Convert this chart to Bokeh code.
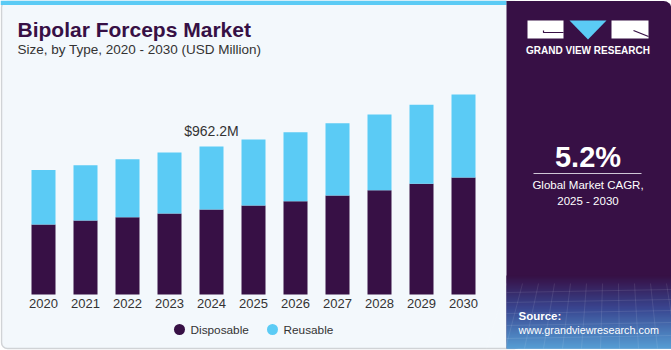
from bokeh.plotting import figure
from bokeh.models import Range1d, ColumnDataSource
from bokeh.core.properties import value
from bokeh.embed import file_html
from bokeh.resources import INLINE

# ---- data ----
years = [2020, 2021, 2022, 2023, 2024, 2025, 2026, 2027, 2028, 2029, 2030]
year_labels = [str(y) for y in years]
disposable = [455, 481, 503, 527, 553, 579, 607, 644, 678, 720, 761]
reusable = [355, 359, 377, 396, 409, 429, 448, 470, 492, 513, 539]
series_names = ["Disposable", "Reusable"]
highlight_year = 2024
highlight_label = "$962.2M"
title = "Bipolar Forceps Market"
subtitle = "Size, by Type, 2020 - 2030 (USD Million)"
cagr = "5.2%"
cagr_text = ["Global Market CAGR,", "2025 - 2030"]

# ---- style ----
W, H = 671, 350
PURPLE = "#371045"
BLUE = "#5BCBF5"
BG = "#F3F8FC"
FONT = "Liberation Sans"

px_per_year = 42.0
first_center_px = 43.0
px_per_unit = 148.0 / 962.2
base_from_bottom = 56.0

x_start = years[0] - first_center_px / px_per_year
y_start = -base_from_bottom / px_per_unit

p = figure(width=W, height=H, output_backend="svg", toolbar_location=None,
           x_range=Range1d(x_start, x_start + W / px_per_year),
           y_range=Range1d(y_start, y_start + H / px_per_unit),
           min_border=0, outline_line_color=None,
           background_fill_color="white", border_fill_color="white")
p.axis.visible = False
p.grid.visible = False
p.extra_x_ranges = {"px": Range1d(0, W)}
p.extra_y_ranges = {"py": Range1d(H, 0)}

PX = dict(x_range_name="px", y_range_name="py")


def txt(x, y, t, size, color="#333333", bold=False, align="left", **kw):
    p.text(x=x, y=y, text=t, text_color=color, text_font=value(FONT),
           text_font_style="bold" if bold else "normal", text_font_size=f"{size}px",
           text_align=align, text_baseline="alphabetic", y_offset=-0.3 * size, **kw)


# left panel
p.quad(left=1, right=520, top=1, bottom=348, fill_color=BG, line_color="#D0D3D6",
       line_width=1.5, border_radius=6, **PX)
p.quad(left=0, right=506, top=0, bottom=4.5, fill_color=BLUE, line_color=None, **PX)

# right panel
p.quad(left=506, right=671, top=0.5, bottom=348, fill_color=PURPLE, line_color=None,
       border_radius=(0, 8, 0, 0), **PX)


def hex2rgb(h):
    h = h.lstrip("#")
    return [int(h[i:i + 2], 16) for i in (0, 2, 4)]


def mix(a, b, t):
    a, b = hex2rgb(a), hex2rgb(b)
    return "#%02x%02x%02x" % tuple(int(round(a[i] + (b[i] - a[i]) * t)) for i in range(3))


stops = [(275, PURPLE), (308, "#3a4f9c"), (348, "#5cb3ea")]
tops, bots, cols = [], [], []
for k in range(len(stops) - 1):
    y0, c0 = stops[k]
    y1, c1 = stops[k + 1]
    n = int(y1 - y0)
    for j in range(n):
        tops.append(y0 + j)
        bots.append(y0 + j + 1.2)
        cols.append(mix(c0, c1, j / n))
p.quad(left=506, right=671, top=tops, bottom=bots, fill_color=cols, line_color=None, **PX)

# faint grid texture
for i in range(12):
    xa = 506 + i * 16
    p.line(x=[xa, xa - 20 + i * 3], y=[283, 348], line_color="white", line_alpha=0.12,
           line_width=0.8, **PX)
for yy in [292, 302, 313, 325, 338]:
    p.line(x=[506, 671], y=[yy, yy - 3], line_color="white", line_alpha=0.12, line_width=0.8, **PX)

# logo
p.quad(left=[527, 611], right=[563, 648], top=[20, 20], bottom=[38, 38], fill_color="white",
       line_color=None, **PX)
p.patch(x=[569, 606, 587.5], y=[20, 20, 39], fill_color=BLUE, line_color=None, **PX)
p.line(x=[543, 543, 563], y=[30, 32, 32], line_color=PURPLE, line_width=1.2, **PX)
p.line(x=[633, 648], y=[30, 36], line_color=PURPLE, line_width=1.2, **PX)
txt([587.5], [53], ["GRAND VIEW RESEARCH"], 10, color="white", bold=True, align="center", **PX)

# CAGR
txt([587.5], [165], [cagr], 29, color="white", bold=True, align="center", **PX)
p.line(x=[533, 641], y=[173, 173], line_color="#cfc6d6", line_width=1, **PX)
txt([587.5, 587.5], [188, 204], cagr_text, 11.5, color="white", align="center", **PX)
txt([518], [319], ["Source:"], 11.5, color="white", bold=True, **PX)
txt([518], [333], ["www.grandviewresearch.com"], 10.8, color="white", **PX)

# titles
txt([17], [35], [title], 21, color=PURPLE, bold=True, **PX)
txt([17], [53], [subtitle], 13.5, **PX)

# bars
src = ColumnDataSource(dict(year=years, Disposable=disposable, Reusable=reusable))
p.vbar_stack(series_names, x="year", width=24 / px_per_year, source=src,
             color=[PURPLE, BLUE], line_color=None)

# year labels
txt(years, [307] * len(years), year_labels, 13, align="center", y_range_name="py")

# highlight label
hi = years.index(highlight_year)
p.text(x=[highlight_year], y=[disposable[hi] + reusable[hi]], text=[highlight_label],
       y_offset=-11 - 0.3 * 14, text_color="#333333", text_font=value(FONT),
       text_font_size="14px", text_align="center", text_baseline="alphabetic")

# legend
p.scatter(x=[179, 272], y=[329, 329], size=11, marker="circle",
          fill_color=[PURPLE, BLUE], line_color=None, **PX)
txt([190, 283], [333.5, 333.5], series_names, 11.8, **PX)

open("out.html", "w").write(file_html(p, INLINE))
